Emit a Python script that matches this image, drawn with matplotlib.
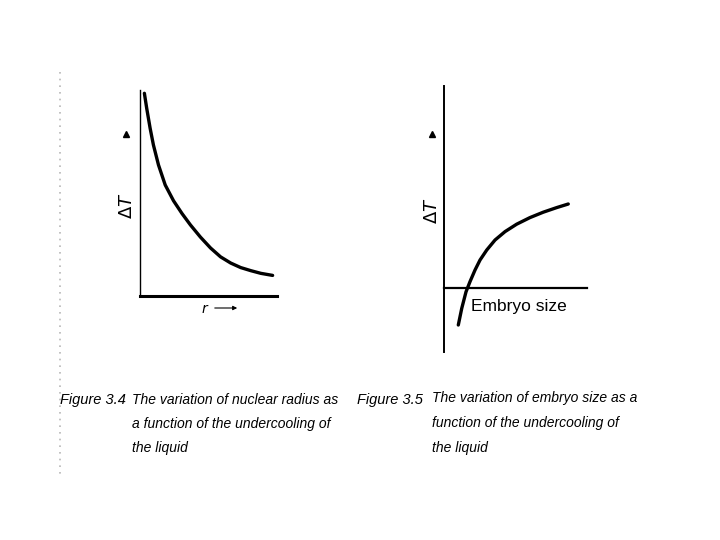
import matplotlib

matplotlib.use("Agg")
import matplotlib.pyplot as plt
from matplotlib.patches import FancyArrowPatch

# Figure 3.4: undercooling vs nuclear radius
radius = [0.32, 0.49, 0.74, 0.98, 1.35, 1.84, 2.45, 3.07, 3.68, 4.41,
          5.15, 5.88, 6.62, 7.35, 8.09, 8.82, 9.68]
undercool_a = [9.84, 9.11, 8.14, 7.33, 6.36, 5.39, 4.62, 4.00, 3.45, 2.86,
               2.33, 1.90, 1.60, 1.38, 1.23, 1.10, 1.00]

# Figure 3.5: undercooling vs embryo size
embryo = [1.00, 1.24, 1.54, 1.82, 2.17, 2.52, 2.99, 3.57, 4.27, 5.08,
          6.01, 6.94, 7.88, 8.69]
undercool_b = [-1.85, -1.02, -0.19, 0.32, 0.90, 1.40, 1.90, 2.40, 2.82, 3.19,
               3.52, 3.79, 4.02, 4.20]

caption_a = ["The variation of nuclear radius as",
             "a function of the undercooling of",
             "the liquid"]
caption_b = ["The variation of embryo size as a",
             "function of the undercooling of",
             "the liquid"]

W, H = 720, 540
CAP_FONT = ["Liberation Sans", "DejaVu Sans"]
CAP_SIZE = 10


def box(x0, y0, x1, y1):
    # pixel box (top-left origin) -> figure fraction rect
    return [x0 / W, 1 - y1 / H, (x1 - x0) / W, (y1 - y0) / H]


def fx(px):
    return px / W


def fy(py):
    return 1 - py / H


fig = plt.figure(figsize=(7.2, 5.4), dpi=100)
fig.patch.set_facecolor("white")

# scan noise column on the left edge
fig.add_artist(plt.Line2D([fx(60), fx(60)], [fy(72), fy(475)], color="#9a9a9a",
                          lw=1.2, ls=(0, (1, 3)), alpha=0.7))

# ---- left panel
ax1 = fig.add_axes(box(140, 90, 277, 296))
ax1.plot(radius, undercool_a, color="black", lw=2.4, solid_capstyle="round")
ax1.set_xlim(0, 10)
ax1.set_ylim(0, 10)
for s in ["top", "right"]:
    ax1.spines[s].set_visible(False)
ax1.spines["left"].set_linewidth(1.0)
ax1.spines["bottom"].set_linewidth(2.2)
ax1.set_xticks([])
ax1.set_yticks([])
ax1.patch.set_alpha(0)

# ---- right panel
ax2 = fig.add_axes(box(444, 86, 587, 352))
ax2.plot(embryo, undercool_b, color="black", lw=2.4, solid_capstyle="round")
ax2.set_xlim(0, 10)
ax2.set_ylim(-3.2, 10.1)
for s in ["top", "right"]:
    ax2.spines[s].set_visible(False)
ax2.spines["bottom"].set_position(("data", 0))
ax2.spines["left"].set_linewidth(1.4)
ax2.spines["bottom"].set_linewidth(1.6)
ax2.set_xticks([])
ax2.set_yticks([])
ax2.patch.set_alpha(0)

# axis labels
for x, y in [(127, 206), (432, 211)]:
    fig.text(fx(x), fy(y), "Δ$T$", rotation=90, ha="center", va="center",
             fontsize=13, family="DejaVu Sans")
for x, y in [(126, 134), (432, 134)]:
    fig.add_artist(plt.Line2D([fx(x)], [fy(y)], marker="^", ms=4,
                              color="black", lw=0))
fig.text(fx(204), fy(309), "r", ha="center", va="center", fontsize=10,
         style="italic")
fig.add_artist(FancyArrowPatch(
    (fx(212), fy(308)), (fx(240), fy(308)), transform=fig.transFigure,
    arrowstyle="-|>", mutation_scale=6, lw=0.8, color="black"))
fig.text(fx(519), fy(307), "Embryo size", ha="center", va="center",
         fontsize=12.5, family=CAP_FONT)

# captions
fig.text(fx(60), fy(400), "Figure 3.4", ha="left", va="center",
         fontsize=CAP_SIZE + 0.5, style="italic", family=CAP_FONT)
fig.text(fx(357), fy(400), "Figure 3.5", ha="left", va="center",
         fontsize=CAP_SIZE + 0.5, style="italic", family=CAP_FONT)
for i, line in enumerate(caption_a):
    fig.text(fx(132), fy(400 + 24 * i), line, ha="left", va="center",
             fontsize=CAP_SIZE, style="italic", family=CAP_FONT)
for i, line in enumerate(caption_b):
    fig.text(fx(432), fy(398 + 25 * i), line, ha="left", va="center",
             fontsize=CAP_SIZE, style="italic", family=CAP_FONT)

fig.savefig("out.png", dpi=100)
